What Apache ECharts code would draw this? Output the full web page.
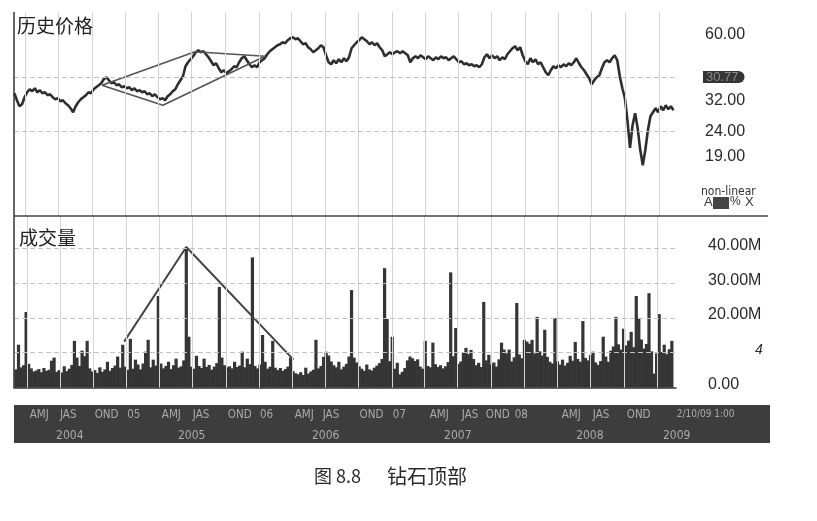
<!DOCTYPE html>
<html><head><meta charset="utf-8">
<script src="https://cdn.jsdelivr.net/npm/echarts@6/dist/echarts.min.js"></script>
<style>html,body{margin:0;padding:0;background:#fff}#c{width:817px;height:521px}</style>
</head><body><div id="c"></div>
<script>
// ---------- data ----------
const axisStart = '2004-03-01';
const axisEnd = '2009-02-17';
const firstWeek = '2004-03-02';
const weekStepDays = 7;

const prices = [
34.40,32.21,30.44,31.02,33.13,34.73,35.72,35.06,36.06,34.73,
35.39,34.40,34.73,33.76,34.08,33.13,32.51,32.82,31.91,32.21,
31.31,30.73,29.87,28.77,30.44,31.61,32.51,33.13,33.76,34.73,
34.40,35.72,36.40,37.10,37.80,39.25,40.00,38.89,37.80,38.16,
37.10,37.45,36.40,36.75,36.06,36.40,35.39,36.06,35.06,35.39,
34.73,35.06,34.08,34.40,33.44,34.08,33.13,32.51,32.82,32.21,
33.44,34.08,35.06,35.72,37.45,38.89,40.38,44.36,46.06,47.38,
48.74,50.61,51.57,50.61,51.09,49.67,48.28,46.50,44.78,45.63,
43.53,41.93,42.72,41.53,42.32,43.13,44.36,43.95,46.06,47.83,
48.74,46.94,45.20,43.95,44.78,43.95,46.06,46.94,47.83,49.67,
51.09,52.06,53.05,54.06,54.57,55.61,55.09,56.66,57.74,58.29,
57.20,57.74,56.13,54.57,55.09,53.05,52.06,50.61,51.57,52.55,
54.06,53.05,49.20,46.06,45.20,46.94,45.63,47.38,46.06,47.83,
46.50,48.28,52.55,54.06,55.61,56.66,58.29,57.20,56.13,54.57,
55.61,54.06,55.09,53.05,51.57,48.74,49.67,50.61,49.67,50.61,
51.09,50.14,51.09,50.14,49.20,46.06,47.83,48.74,47.83,49.20,
48.28,47.38,48.74,47.83,46.94,48.28,47.38,48.74,47.83,48.28,
46.94,47.83,48.74,47.38,46.06,46.50,45.20,45.63,44.78,45.20,
44.36,44.78,43.95,45.20,48.28,49.67,47.83,49.20,47.83,48.74,
46.94,48.28,47.38,49.67,51.09,52.55,53.55,51.57,53.05,49.20,
46.50,45.20,47.83,46.06,47.38,45.20,46.06,43.95,41.93,40.76,
42.72,44.36,43.53,44.78,43.95,45.20,44.36,45.63,44.78,46.06,
47.83,45.63,43.95,42.72,41.14,39.63,37.45,38.89,40.00,40.76,
43.53,46.06,46.94,46.06,47.83,49.20,46.94,40.38,36.06,32.82,
26.67,20.58,25.46,28.50,24.75,20.20,17.46,20.20,24.28,27.70,
28.77,29.87,28.77,30.44,29.31,30.73,29.59,30.44,29.31
];

const volumes = [
5.2,12.3,5.8,6.4,21.7,6.8,5.5,4.6,4.9,5.3,
4.4,5.6,4.8,5.1,7.7,8.6,4.5,5.0,4.3,6.1,
4.7,5.4,6.5,13.4,8.6,6.2,10.6,9.0,13.4,5.5,
4.6,5.0,4.2,5.8,4.5,5.2,7.4,4.8,5.6,6.3,
8.9,5.7,12.3,6.0,5.1,14.0,5.4,8.0,6.6,5.2,
6.9,10.3,13.7,5.8,8.0,6.3,26.3,6.9,5.5,6.2,
7.4,5.3,6.4,8.3,5.7,6.1,7.8,40.3,14.6,6.0,
5.4,9.1,6.2,5.6,8.3,5.9,6.5,5.1,6.0,7.0,
28.9,8.6,6.4,5.8,6.1,5.5,7.4,5.9,6.3,10.3,
5.8,8.3,6.7,37.4,6.2,5.5,6.6,15.1,7.4,5.4,
6.0,13.4,5.7,5.0,5.6,4.8,5.3,6.0,8.6,4.7,
4.1,3.8,4.4,3.6,5.7,4.0,4.6,5.1,13.7,5.5,
6.2,8.8,10.3,9.2,7.5,6.4,5.8,7.4,5.2,6.0,
6.8,8.9,28.0,8.6,7.2,6.1,5.4,4.8,6.6,5.2,
4.9,5.7,6.3,7.0,8.2,34.3,19.7,7.6,14.6,5.4,
7.1,3.8,4.5,5.6,7.8,8.9,8.4,7.6,8.1,6.0,
5.4,13.4,6.2,5.8,12.9,6.7,5.9,6.4,5.5,6.1,
7.3,33.1,9.0,17.1,6.8,7.5,10.2,11.4,9.6,10.8,
8.2,6.4,7.1,5.9,24.6,7.8,9.4,6.6,7.2,6.0,
8.1,12.9,10.9,9.8,10.9,7.5,8.7,24.3,9.5,8.4,
13.7,13.2,12.6,13.7,9.8,20.3,10.4,9.2,16.6,8.8,
7.4,6.9,20.0,7.5,6.6,8.0,6.3,7.1,9.1,7.7,
13.1,8.2,7.4,19.1,8.5,7.8,9.3,10.3,7.2,6.5,
7.6,14.6,8.9,7.4,10.6,11.8,20.3,12.4,10.9,16.9,
12.1,13.5,16.0,11.6,26.3,20.0,13.8,11.2,12.5,27.1,
10.4,4.0,9.8,21.1,10.2,12.3,9.6,11.0,13.4
];

const priceTicks = [60, 32, 24, 19];
const priceGridLevels = [40, 24];
const priceTagLevel = 40;
const priceTagText = '30.77';
const volumeTicks = [0, 10, 20, 30, 40];
const volumeTickLabels = ['0.00', '4', '20.00M', '30.00M', '40.00M'];
const volumeGridLevels = [10, 20, 30, 40];

const quarterStarts = ['2004-04-01','2004-07-01','2004-10-01','2005-01-01','2005-04-01','2005-07-01','2005-10-01',
  '2006-01-01','2006-04-01','2006-07-01','2006-10-01','2007-01-01','2007-04-01','2007-07-01','2007-10-01',
  '2008-01-01','2008-04-01','2008-07-01','2008-10-01','2009-01-01'];

const diamondDates = ['2004-10-28','2005-07-10','2006-01-18','2005-04-13','2004-10-28'];
const diamondPrices = [37.10, 50.85, 48.74, 30.73, 37.10];
const triangleDates = ['2004-12-25','2005-06-14','2006-04-05'];
const triangleVolumes = [13.2, 40.4, 8.0];

const quarterLabels = ['AMJ','JAS','OND','05','AMJ','JAS','OND','06','AMJ','JAS','OND','07',
  'AMJ','JAS','OND','08','AMJ','JAS','OND'];
const quarterLabelDates = ['2004-04-13','2004-07-05','2004-10-08','2005-01-05','2005-04-10','2005-07-04','2005-10-08',
  '2006-01-04','2006-04-09','2006-06-25','2006-10-04','2007-01-03','2007-04-14','2007-07-11','2007-09-15',
  '2007-12-03','2008-04-10','2008-07-04','2008-10-05'];
const yearLabels = ['2004','2005','2006','2007','2008','2009'];
const yearLabelDates = ['2004-08-01','2005-07-01','2006-07-03','2007-06-30','2008-06-26','2009-02-19'];
const stampLabel = '2/10/09 1:00';
const stampDate = '2009-02-19';

// ---------- chart ----------
const DAY = 86400000;
const T = s => Date.parse(s + 'T00:00:00Z');
const T0 = T(axisStart), T1 = T(axisEnd);
const T2 = T0 + (T1 - T0) * 756 / 662;
const weeks = prices.map((_, i) => T(firstWeek) + i * weekStepDays * DAY);

const narrow = "'Liberation Sans Narrow','DejaVu Sans Condensed','Liberation Sans',sans-serif";
const sans = "'Liberation Sans',Arial,sans-serif";
const cjk = "'Noto Sans CJK SC','Noto Sans',sans-serif";
const QROW = 1.49, YROW = 0.395;

const vGrid = quarterStarts.map(q => ({xAxis: T(q), lineStyle: {color: '#d4d4d4', width: 1, type: 'solid'}}));
const hide = {show: false};

const option = {
  animation: false,
  backgroundColor: '#fff',
  title: [
    {text: '历史价格', left: 17, top: 16, padding: 0, textStyle: {fontSize: 19, fontWeight: 'normal', color: '#222', fontFamily: cjk}},
    {text: '成交量', left: 19, top: 228, padding: 0, textStyle: {fontSize: 19, fontWeight: 'normal', color: '#222', fontFamily: cjk}},
    {text: '图 8.8', left: 314, top: 467, padding: 0, textStyle: {fontSize: 18, fontWeight: 'normal', color: '#2a2a2a', fontFamily: cjk}},
    {text: '钻石顶部', left: 387, top: 466, padding: 0, textStyle: {fontSize: 20, fontWeight: 'normal', color: '#2a2a2a', fontFamily: cjk}}
  ],
  grid: [
    {left: 14, top: 12, width: 662, height: 204},
    {left: 14, top: 216, width: 662, height: 171.5},
    {left: 14, top: 405, width: 756, height: 38, show: true, backgroundColor: '#3d3d3d', borderWidth: 0}
  ],
  xAxis: [
    {type: 'time', gridIndex: 0, min: T0, max: T1, show: false},
    {type: 'time', gridIndex: 1, min: T0, max: T1, axisLine: {show: true, lineStyle: {color: '#333', width: 1.5}},
      axisTick: hide, axisLabel: hide, splitLine: hide},
    {type: 'time', gridIndex: 2, min: T0, max: T2, show: false}
  ],
  yAxis: [
    {type: 'value', gridIndex: 0, position: 'right', min: Math.log(10.83), max: Math.log(73.92),
      axisLine: hide, axisTick: hide, splitLine: hide,
      axisLabel: {customValues: priceTicks.map(v => Math.log(v)), formatter: v => Math.exp(v).toFixed(2),
        margin: 29, color: '#2a2a2a', fontSize: 16, fontFamily: sans, padding: [0, 0, 6, 0]}},
    {type: 'value', gridIndex: 1, position: 'right', min: 0, max: 49.3,
      axisLine: hide, axisTick: hide, splitLine: hide,
      axisLabel: {customValues: volumeTicks,
        formatter: v => { const k = volumeTicks.indexOf(Math.round(v)); const s = volumeTickLabels[k];
          return s === '4' ? '{m|4}' : s; },
        margin: 32, color: '#2a2a2a', fontSize: 16, fontFamily: sans, padding: [0, 0, 6, 0],
        rich: {m: {padding: [0, 0, 0, 47], fontStyle: 'italic', fontSize: 14, color: '#2a2a2a', fontFamily: sans}}}},
    {type: 'value', gridIndex: 2, min: 0, max: 2, show: false}
  ],
  series: [
    {type: 'line', xAxisIndex: 0, yAxisIndex: 0, data: [], z: 1, silent: true,
      markLine: {silent: true, symbol: ['none', 'none'], label: hide,
        data: vGrid.concat(priceGridLevels.map(p => ({yAxis: Math.log(p), lineStyle: {color: '#c2c2c2', width: 1, type: [5, 3]}})))}},
    {type: 'line', xAxisIndex: 1, yAxisIndex: 1, data: [], z: 1, silent: true,
      markLine: {silent: true, symbol: ['none', 'none'], label: hide,
        data: vGrid.concat(volumeGridLevels.map(v => ({yAxis: v, lineStyle: {color: '#c2c2c2', width: 1, type: [5, 3]}})))}},
    {type: 'line', name: 'price', xAxisIndex: 0, yAxisIndex: 0, z: 3,
      data: weeks.map((d, i) => [d, Math.log(prices[i])]),
      symbol: 'none', lineStyle: {color: '#2e2e2e', width: 2.6}},
    {type: 'bar', name: 'volume', xAxisIndex: 1, yAxisIndex: 1, z: 3,
      data: weeks.map((d, i) => [d, volumes[i]]),
      barWidth: 3.2, itemStyle: {color: '#353535'}},
    {type: 'line', xAxisIndex: 0, yAxisIndex: 0, z: 4,
      data: diamondDates.map((d, i) => [T(d), Math.log(diamondPrices[i])]),
      symbol: 'none', lineStyle: {color: '#555', width: 1.7}},
    {type: 'line', xAxisIndex: 1, yAxisIndex: 1, z: 4,
      data: triangleDates.map((d, i) => [T(d), triangleVolumes[i]]),
      symbol: 'none', lineStyle: {color: '#444', width: 2}},
    {type: 'line', xAxisIndex: 0, yAxisIndex: 0, data: [], z: 5, silent: true,
      markLine: {silent: true, symbol: ['none', 'none'],
        data: [{yAxis: Math.log(priceTagLevel), lineStyle: {color: 'rgba(0,0,0,0)', width: 1},
          label: {show: true, position: 'end', distance: 27, formatter: priceTagText,
            backgroundColor: '#353535', color: '#8a8a8a', fontSize: 13, fontFamily: sans,
            padding: [0, 6, 0, 3], lineHeight: 12, borderRadius: [0, 6, 6, 0]}}]}},
    {type: 'scatter', xAxisIndex: 2, yAxisIndex: 2, symbolSize: 0, silent: true, z: 5,
      data: quarterLabels.map((s, i) => ({name: s, value: [T(quarterLabelDates[i]), QROW]}))
        .concat([{name: stampLabel, value: [T(stampDate), QROW], label: {fontSize: 10}}]),
      label: {show: true, position: 'right', distance: 0, formatter: '{b}', color: '#c4c4c4', fontSize: 11.5, fontFamily: narrow}},
    {type: 'scatter', xAxisIndex: 2, yAxisIndex: 2, symbolSize: 0, silent: true, z: 5,
      data: yearLabels.map((s, i) => ({name: s, value: [T(yearLabelDates[i]), YROW]})),
      label: {show: true, position: 'inside', formatter: '{b}', color: '#c4c4c4', fontSize: 12, fontFamily: narrow}}
  ],
  graphic: [
    {type: 'line', shape: {x1: 14, y1: 12, x2: 14, y2: 388}, style: {stroke: '#333', lineWidth: 1.5}, z: 10},
    {type: 'line', shape: {x1: 14, y1: 216, x2: 768, y2: 216}, style: {stroke: '#444', lineWidth: 1.5}, z: 10},
    {type: 'text', left: 701, top: 186, style: {text: 'non-linear', fill: '#333', font: "12px 'Liberation Sans Narrow','DejaVu Sans Condensed',sans-serif"}},
    {type: 'text', left: 704, top: 196, style: {text: 'A', fill: '#333', font: "13px 'Liberation Sans',sans-serif"}},
    {type: 'rect', shape: {x: 713, y: 197, width: 16, height: 12}, style: {fill: '#454545'}},
    {type: 'text', left: 730, top: 196, style: {text: '%', fill: '#333', font: "12px 'Liberation Sans Narrow',sans-serif"}},
    {type: 'text', left: 745, top: 196, style: {text: 'X', fill: '#333', font: "13px 'Liberation Sans',sans-serif"}}
  ]
};

const chart = echarts.init(document.getElementById('c'), null, {renderer: 'canvas'});
chart.setOption(option);
</script>
</body></html>
